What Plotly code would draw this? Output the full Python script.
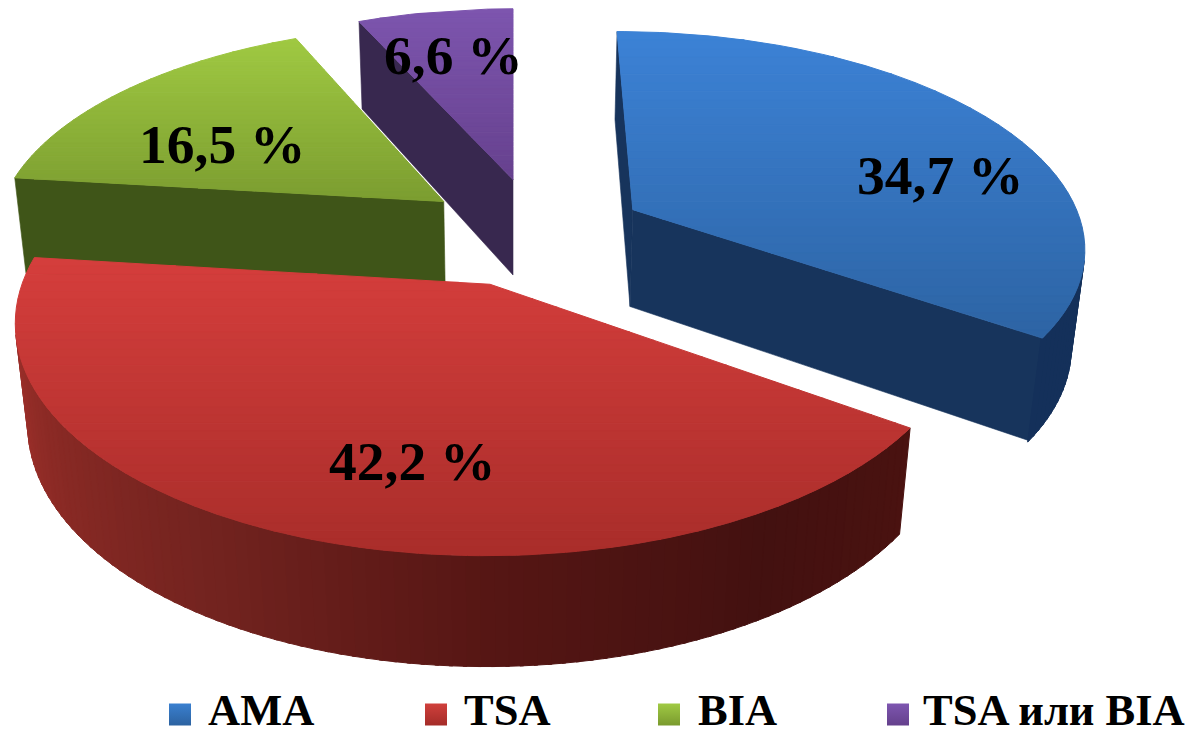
import math
import plotly.graph_objects as go

# Chart content
categories = ["AMA", "TSA", "BIA", "TSA или BIA"]
shares = [34.7, 42.2, 16.5, 6.6]

# Appearance of each slice, same order as the categories
top_colors = [("#3c82d6", "#2d64a4"), ("#d53e3c", "#a92d2a"),
              ("#9fc942", "#7c9d30"), ("#7d55ae", "#66418e")]
face_colors = ["#17345c", "#5a1714", "#3f5518", "#38284f"]
swatch_colors = [("#3a80d0", "#2c62a0"), ("#d0403c", "#a42c28"),
                 ("#a0ca44", "#7a9a2e"), ("#7e56b0", "#64408c")]
# Rim shading of the red slice against clock angle in degrees
red_rim_stops = [(124, "#4a1210"), (150, "#431110"), (180, "#561614"),
                 (210, "#72231f"), (240, "#8b2a25"), (272, "#a8322c")]
blue_rim = "#14305a"

# Each slice's apex on the pie plane, in pie radii (exploded layout)
apex_offsets = [(0.27, 0.37), (-0.049, 0.025), (-0.157, 0.41), (0.0, 0.52)]
label_anchors = [(940, 175), (412, 461), (222, 144), (453, 55)]
legend_swatch_x = [180, 436, 669, 898]
legend_text_x = [206, 462, 696, 921]

# Perspective camera that maps the pie plane to the page
CX, CY = 513, 290
A, B, K = 470, 230, 0.16
DEPTH, M = 103, 0.025


def project(X, Y, Z=0.0):
    w = 1 + K * Y + M * Z
    return CX + A * X / w, CY + (-B * Y + DEPTH * Z) / w


def rim(i, clock_deg, Z=0.0):
    a = math.radians(clock_deg)
    ox, oy = apex_offsets[i]
    return project(ox + math.sin(a), oy + math.cos(a), Z)


def signed_area(pts):
    return sum(pts[j][0] * pts[(j + 1) % len(pts)][1] - pts[(j + 1) % len(pts)][0] * pts[j][1]
               for j in range(len(pts))) / 2


def to_rgb(h):
    return tuple(int(h[k:k + 2], 16) for k in (1, 3, 5))


def mix(c1, c2, t):
    r1, r2 = to_rgb(c1), to_rgb(c2)
    return "rgb(%d,%d,%d)" % tuple(round(p + (q - p) * t) for p, q in zip(r1, r2))


def red_rim_color(deg):
    for (d0, c0), (d1, c1) in zip(red_rim_stops, red_rim_stops[1:]):
        if deg <= d1:
            return mix(c0, c1, max(0.0, (deg - d0) / (d1 - d0)))
    return mix(red_rim_stops[-1][1], red_rim_stops[-1][1], 0)


def clip_band(pts, y0, y1):
    """Clip a polygon to the horizontal band y0..y1."""
    def clip(poly, inside, cut_y):
        out = []
        for j, p in enumerate(poly):
            q = poly[(j + 1) % len(poly)]
            if inside(p):
                out.append(p)
            if inside(p) != inside(q):
                t = (cut_y - p[1]) / (q[1] - p[1])
                out.append((p[0] + (q[0] - p[0]) * t, cut_y))
        return out
    poly = clip(pts, lambda p: p[1] >= y0, y0)
    return clip(poly, lambda p: p[1] <= y1, y1) if poly else []


fig = go.Figure()


def polygon(pts, color, stroke=1.0):
    fig.add_trace(go.Scatter(
        x=[p[0] for p in pts] + [pts[0][0]], y=[p[1] for p in pts] + [pts[0][1]],
        mode="lines", fill="toself", fillcolor=color,
        line=dict(color=color, width=stroke), hoverinfo="skip", showlegend=False))


# Clock angles of every slice, running clockwise from twelve o'clock
total = sum(shares)
spans = []
start = 0.0
for v in shares:
    end = start + v / total * 360
    spans.append((start, end))
    start = end

# Far slices are painted first so the red slice can overlap the green wall
for i in (3, 2, 0, 1):
    a0, a1 = spans[i]
    ox, oy = apex_offsets[i]
    apex_top, apex_bottom = project(ox, oy), project(ox, oy, 1)

    # Flat cut faces that look towards the viewer
    for deg, sign in ((a0, -1), (a1, 1)):
        quad = [apex_top, rim(i, deg), rim(i, deg, 1), apex_bottom]
        if signed_area(quad) * sign > 1:
            polygon(quad, face_colors[i], 0.6)

    # Rounded outer wall, with small overlapping steps so no seams show
    steps = max(8, int((a1 - a0) / 1.5))
    for s in range(steps):
        d0 = a0 + (a1 - a0) * s / steps
        d1 = a0 + (a1 - a0) * (s + 1) / steps
        quad = [rim(i, d0), rim(i, d1 + 0.4), rim(i, d1 + 0.4, 1), rim(i, d0, 1)]
        if signed_area([rim(i, d0), rim(i, d1), rim(i, d1, 1), rim(i, d0, 1)]) < 0 and d1 + 0.4 <= a1 + 0.4:
            color = red_rim_color((d0 + d1) / 2) if i == 1 else (blue_rim if i == 0 else face_colors[i])
            polygon(quad, color, 1.0)

    # Top surface, shaded in horizontal bands
    outline = [apex_top] + [rim(i, a0 + (a1 - a0) * s / 120) for s in range(121)]
    ymin, ymax = min(p[1] for p in outline), max(p[1] for p in outline)
    bands = 36
    for b in range(bands):
        y0 = ymin + (ymax - ymin) * b / bands
        y1 = ymin + (ymax - ymin) * (b + 1) / bands
        piece = clip_band(outline, y0, y1)
        if len(piece) >= 3:
            polygon(piece, mix(top_colors[i][0], top_colors[i][1], (b + 0.5) / bands), 1.0)

# Value labels
annotations = []
for v, (lx, ly) in zip(shares, label_anchors):
    annotations.append(dict(
        x=lx, y=ly, xref="x", yref="y", showarrow=False, xanchor="center", yanchor="middle",
        text="<b>" + f"{v:.1f}".replace(".", ",") + " %</b>",
        font=dict(family="Liberation Serif", size=55.5, color="#000000")))

# Legend row along the bottom edge
for name, sx, tx, (c0, c1) in zip(categories, legend_swatch_x, legend_text_x, swatch_colors):
    fig.add_trace(go.Scatter(
        x=[sx], y=[714.5], mode="markers", hoverinfo="skip", showlegend=False,
        marker=dict(symbol="square", size=22, color=c0, line=dict(width=0),
                    gradient=dict(type="vertical", color=c1))))
    annotations.append(dict(
        x=tx, y=737, xref="x", yref="y", showarrow=False, xanchor="left", yanchor="bottom",
        text=f"<b>{name}</b>",
        font=dict(family="Liberation Serif", size=44.5, color="#000000")))

fig.update_layout(
    width=1198, height=737, autosize=False,
    margin=dict(l=0, r=0, t=0, b=0),
    paper_bgcolor="#ffffff", plot_bgcolor="#ffffff",
    xaxis=dict(range=[0, 1198], visible=False, fixedrange=True),
    yaxis=dict(range=[737, 0], visible=False, fixedrange=True),
    annotations=annotations, showlegend=False)

fig.write_html("out.html", config={"displayModeBar": False})
